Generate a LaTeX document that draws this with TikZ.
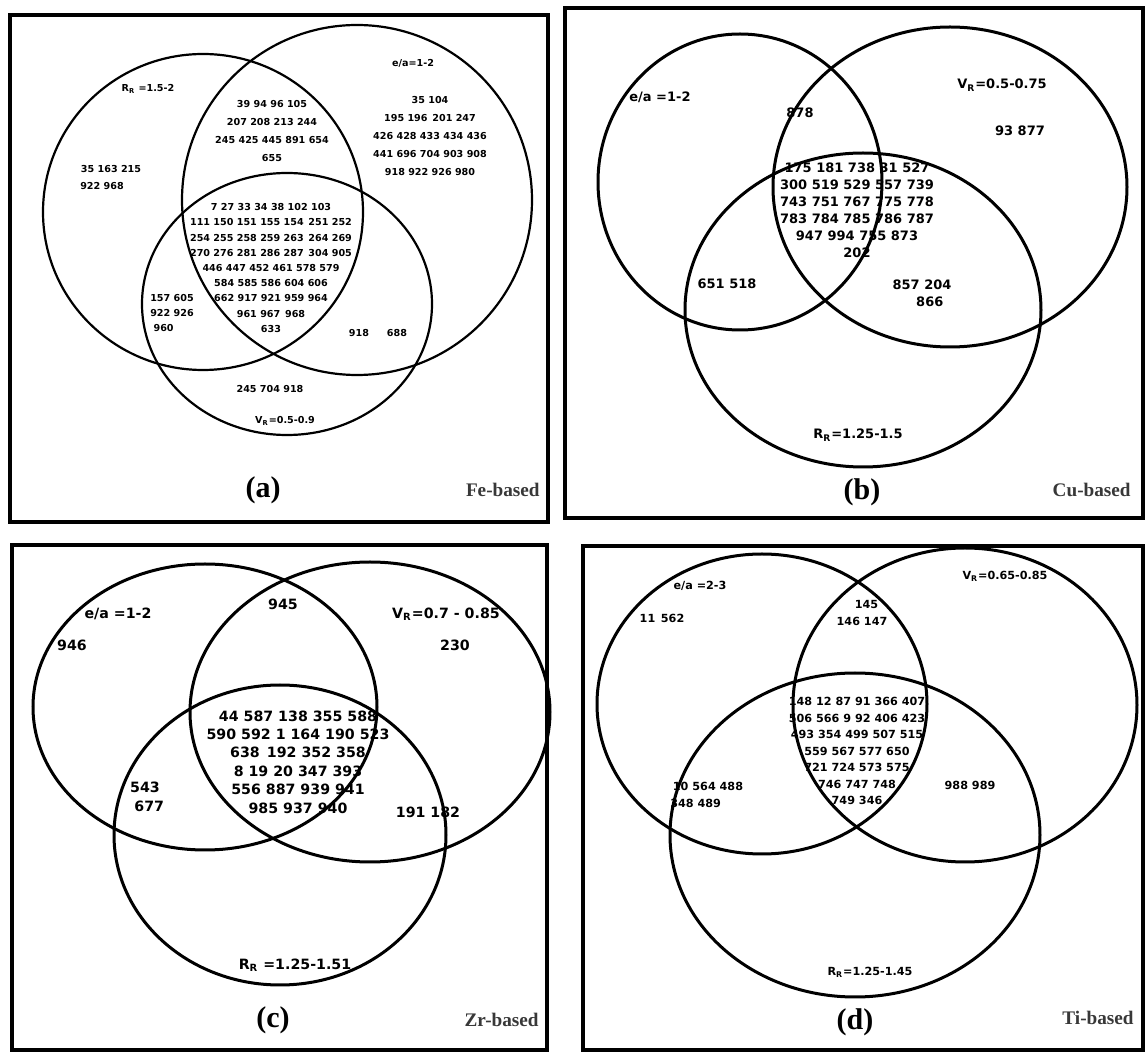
\documentclass[tikz,border=0pt]{standalone}
\usepackage{fontspec}
\setmainfont{Liberation Serif}
\newfontfamily\numfont{DejaVu Sans}
\begin{document}
\begin{tikzpicture}[x=0.5pt,y=-0.5pt,
  ring/.style={draw=black, line width=1.5pt},
  thinring/.style={draw=black, line width=1.1pt},
  frame/.style={draw=black, line width=1.6pt},
  ta/.style={inner sep=0pt, align=center, font=\numfont\bfseries\fontsize{4.8pt}{7.6pt}\selectfont},
  tatop/.style={inner sep=0pt, align=center, font=\numfont\bfseries\fontsize{4.8pt}{8.9pt}\selectfont},
  tb/.style={inner sep=0pt, align=center, font=\numfont\bfseries\fontsize{6.5pt}{8.5pt}\selectfont},
  tc/.style={inner sep=0pt, align=center, font=\numfont\bfseries\fontsize{7.1pt}{9.2pt}\selectfont},
  td/.style={inner sep=0pt, align=center, font=\numfont\bfseries\fontsize{5.6pt}{8.25pt}\selectfont},
  big/.style={inner sep=0pt, font=\bfseries\fontsize{15pt}{16pt}\selectfont},
  tag/.style={inner sep=0pt, anchor=east, text=black!78, font=\bfseries\fontsize{9.6pt}{10pt}\selectfont}
]
\useasboundingbox (0,0) rectangle (1148,1053);
\fill[white] (0,0) rectangle (1148,1053);

% ---------------- (a) Fe-based ----------------
\draw[frame] (10,15) rectangle (548,522);
\draw[thinring] (203,212) ellipse [x radius=160, y radius=158];
\draw[thinring] (357,200) ellipse [x radius=175, y radius=175];
\draw[thinring] (287,304) ellipse [x radius=145, y radius=131];

\node[ta] (aRR) at (148,89) {R\textsubscript{R} =1.5-2};
\node[ta] (aea) at (413,63) {e/a=1-2};
\node[ta] (aleft1) at (111,169) {35 163 215};
\node[ta] (aleft2) at (102,186) {922 968};
\node[tatop] (atop) at (272,131) {39 94 96 105\\207 208 213 244\\245 425 445 891 654\\655};
\node[tatop] (aright) at (430,136) {35 104\\195 196\enspace 201 247\\426 428 433 434 436\\441 696 704 903 908\\918 922 926 980};
\node[ta] (acenter) at (271,268) {7 27 33 34 38 102 103\\111 150 151 155 154\enspace 251 252\\254 255 258 259 263\enspace 264 269\\270 276 281 286 287\enspace 304 905\\446 447 452 461 578 579\\584 585 586 604 606\\662 917 921 959 964\\961 967\enspace 968\\633};
\node[ta] (aleftv) at (172,313) {157 605\\922 926\\960\phantom{ 92}};
\node[ta] (arv1) at (359,333) {918};
\node[ta] (arv2) at (397,333) {688};
\node[ta] (av) at (270,389) {245 704 918};
\node[ta] (aVR) at (285,421) {V\textsubscript{R}=0.5-0.9};
\node[big] (alab) at (263,490) {(a)};
\node[tag] (aname) at (540,490) {Fe-based};

% ---------------- (b) Cu-based ----------------
\draw[frame] (565,8) rectangle (1143,518);
\draw[ring] (740,182) ellipse [x radius=142, y radius=148];
\draw[ring] (950,187) ellipse [x radius=177, y radius=160];
\draw[ring] (863,310) ellipse [x radius=178, y radius=157];

\node[tb] (bea) at (660,97) {e/a =1-2};
\node[tb] (btop) at (800,113) {878};
\node[tb] (bVR) at (1002,85) {V\textsubscript{R}=0.5-0.75};
\node[tb] (bright) at (1020,131) {93 877};
\node[tb] (bcenter) at (857,210) {175 181 738 31 527\\300 519 529 557 739\\743 751 767 775 778\\783 784 785 786 787\\947 994 755 873\\202};
\node[tb] (bleft) at (727,284) {651 518};
\node[tb] (bright2) at (922,293) {857 204\\\hspace*{1.2em}866};
\node[tb] (bRR) at (858,435) {R\textsubscript{R}=1.25-1.5};
\node[big] (blab) at (862,492) {(b)};
\node[tag] (bname) at (1131,490) {Cu-based};

% ---------------- (c) Zr-based ----------------
\draw[frame] (12,545) rectangle (547,1050);
\draw[ring] (205,707) ellipse [x radius=172, y radius=143];
\draw[ring] (370,712) ellipse [x radius=180, y radius=150];
\draw[ring] (280,835) ellipse [x radius=166, y radius=150];

\node[tc] (cea) at (118,614) {e/a =1-2};
\node[tc] (cleft) at (72,645) {946};
\node[tc] (ctop) at (283,604) {945};
\node[tc] (cVR) at (446,614) {V\textsubscript{R}=0.7 - 0.85};
\node[tc] (cright) at (455,645) {230};
\node[tc] (ccenter) at (298,762) {44 587 138 355 588\\590 592 1 164 190 523\\638\enspace 192 352 358\\8 19 20 347 393\\556 887 939 941\\985 937 940};
\node[tc] (cleft2) at (145,797) {543\\\hspace*{0.6em}677};
\node[tc] (cright2) at (428,812) {191 182};
\node[tc] (cRR) at (295,965) {R\textsubscript{R} =1.25-1.51};
\node[big] (clab) at (273,1020) {(c)};
\node[tag] (cname) at (539,1020) {Zr-based};

% ---------------- (d) Ti-based ----------------
\draw[frame] (583,546) rectangle (1143,1050);
\draw[ring] (762,704) ellipse [x radius=165, y radius=150];
\draw[ring] (965,705) ellipse [x radius=172, y radius=157];
\draw[ring] (855,835) ellipse [x radius=185, y radius=162];

\node[td] (dea) at (700,586) {e/a =2-3};
\node[td] (dleft) at (662,618) {11\enspace 562};
\node[td] (dtop) at (862,613) {\hspace*{0.8em}145\\146 147};
\node[td] (dVR) at (1005,576) {V\textsubscript{R}=0.65-0.85};
\node[td] (dcenter) at (857,751) {148 12 87 91 366 407\\506 566 9 92 406 423\\493 354 499 507 515\\559 567 577 650\\721 724 573 575\\746 747 748\\749 346};
\node[td] (dleft2) at (708,795) {10 564 488\\348 489\hspace*{2.2em}};
\node[td] (dright) at (970,785) {988 989};
\node[td] (dRR) at (870,972) {R\textsubscript{R}=1.25-1.45};
\node[big] (dlab) at (855,1022) {(d)};
\node[tag] (dname) at (1134,1018) {Ti-based};
\end{tikzpicture}
\end{document}
